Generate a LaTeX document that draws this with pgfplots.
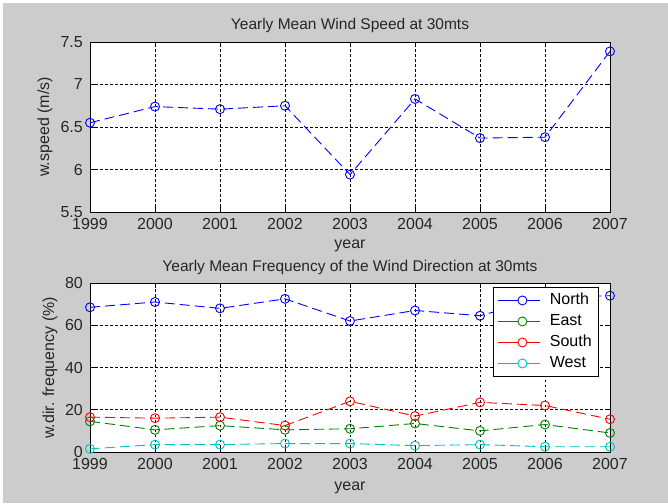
\documentclass[border=0pt]{standalone}
\usepackage{fontspec}
\setmainfont{Liberation Sans}
\usepackage{pgfplots}
\pgfplotsset{compat=1.18}

\definecolor{figgray}{gray}{0.8}
\definecolor{txt}{gray}{0.15}
\definecolor{mblue}{rgb}{0,0,1}
\definecolor{mgreen}{rgb}{0,0.5,0}
\definecolor{mred}{rgb}{1,0,0}
\definecolor{mcyan}{rgb}{0,0.75,0.75}

\pgfplotsset{
  matlab/.style={
    scale only axis,
    anchor=south west,
    width=520pt,
    axis background/.style={fill=white},
    axis line style={black, line width=0.8pt},
    xmin=1999, xmax=2007,
    xtick={1999,2000,...,2007},
    grid=major,
    major grid style={black, line width=0.6pt, dash pattern=on 2.5pt off 2.5pt},
    tick align=inside,
    major tick length=5pt,
    tick style={black, line width=0.6pt},
    /pgf/number format/1000 sep={},
    /pgf/number format/assume math mode=true,
    ticklabel style={font=\fontsize{16}{18}\selectfont, text=txt},
    yticklabel style={anchor=east, inner sep=0pt, xshift=-7pt},
    xticklabel style={anchor=north, inner sep=0pt, yshift=-6pt},
    every axis plot/.append style={line width=0.9pt, dash pattern=on 10pt off 5pt,
      mark=o, mark size=4.5pt, mark options={solid, line width=0.9pt}},
  },
  % legend sample in a fixed colour: line with a circle in its middle
  sample/.style={legend image code/.code={
    \draw[#1, solid, line width=0.9pt] (0pt,0pt) -- (42pt,0pt);
    \draw[#1, solid, line width=0.9pt, fill=white] (24pt,0pt) circle (4.5pt);
  }},
}
\tikzset{
  lab/.style={font=\fontsize{16}{18}\selectfont, text=txt, inner sep=0pt},
  ttl/.style={font=\fontsize{15.5}{17}\selectfont, text=txt, inner sep=0pt, anchor=center},
}

\begin{document}
\begin{tikzpicture}[x=1pt,y=1pt]
\useasboundingbox (0,0) rectangle (668,503);
\fill[white] (0,0) rectangle (668,503);
\fill[figgray] (3,0) rectangle (668,500);

% upper panel: axis box x 90..610, y 291..461
\begin{axis}[matlab,
  at={(90pt,291pt)}, height=170pt,
  ymin=5.5, ymax=7.5, ytick={5.5,6,...,7.5},
]
\addplot[mblue] coordinates {
  (1999,6.55) (2000,6.74) (2001,6.71) (2002,6.75) (2003,5.94)
  (2004,6.83) (2005,6.37) (2006,6.38) (2007,7.39)};
\end{axis}

% lower panel: axis box x 90..610, y 51..220
\begin{axis}[matlab,
  at={(90pt,51pt)}, height=169pt,
  ymin=0, ymax=80, ytick={0,20,...,80},
  legend style={at={(axis description cs:0.979,0.976)}, anchor=north east,
    fill=white, line width=0.8pt,
    font=\fontsize{16}{18}\selectfont,
    nodes={inner sep=2pt, text height=12pt, text depth=4pt},
    row sep=1pt, column sep=7pt, inner xsep=5pt, inner ysep=3pt,
    legend cell align=left},
]
\addplot[mblue, sample={mblue}] coordinates {
  (1999,68.5) (2000,71) (2001,68) (2002,72.5) (2003,62)
  (2004,67) (2005,64.5) (2006,73) (2007,74)};
\addplot[mgreen, sample={mgreen}] coordinates {
  (1999,14.5) (2000,10.5) (2001,12.5) (2002,10.5) (2003,11)
  (2004,13.5) (2005,10) (2006,13) (2007,9)};
\addplot[mred, sample={mred}] coordinates {
  (1999,16.5) (2000,16) (2001,16.5) (2002,12.5) (2003,24)
  (2004,17) (2005,23.5) (2006,22) (2007,15.5)};
\addplot[mcyan, sample={mcyan}] coordinates {
  (1999,1.5) (2000,3.5) (2001,3.5) (2002,4) (2003,4)
  (2004,3) (2005,3.5) (2006,2.5) (2007,2.5)};
\legend{North, East, South, West}
\end{axis}

% titles and axis labels
\node[ttl] at (350,478) {Yearly Mean Wind Speed at 30mts};
\node[lab, anchor=base] at (350,254) {year};
\node[lab, rotate=90, anchor=center] at (45,376) {w.speed (m/s)};
\node[ttl] at (350,236) {Yearly Mean Frequency of the Wind Direction at 30mts};
\node[lab, anchor=base] at (350,13) {year};
\node[lab, rotate=90, anchor=center] at (50,135) {w.dir. frequency (\%)};
\end{tikzpicture}
\end{document}
